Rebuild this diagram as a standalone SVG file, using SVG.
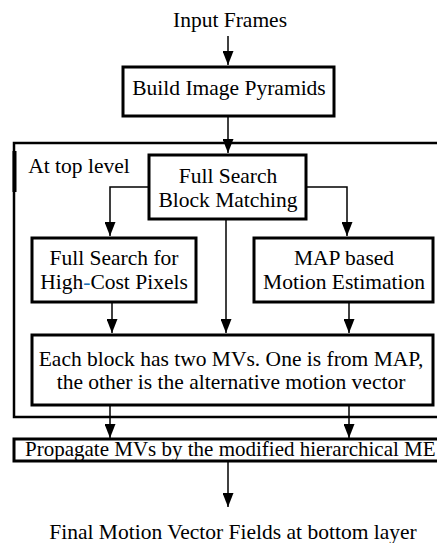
<svg xmlns="http://www.w3.org/2000/svg" width="437" height="543" viewBox="0 0 437 543">
<style>
text{font-family:"Liberation Serif","Times New Roman",serif;font-size:21.5px;fill:#000;text-anchor:middle}
.box{fill:#fff;stroke:#000;stroke-width:3}
.frame{fill:none;stroke:#000;stroke-width:2.5}
.ln{fill:none;stroke:#000;stroke-width:1.5}
</style>
<defs>
<marker id="a" markerWidth="14" markerHeight="11" refX="14" refY="5.5" orient="auto" markerUnits="userSpaceOnUse" viewBox="0 0 14 11">
<path d="M0,0 L14,5.5 L0,11 Z" fill="#000"/>
</marker>
</defs>
<g id="frame">
<path class="frame" d="M437,143 L14,143 L14,417 L437,417"/>
<rect x="12.5" y="151" width="4" height="41" fill="#000"/>
</g>
<g id="connectors">
<path class="ln" d="M228,36 L228,65" marker-end="url(#a)"/>
<path class="ln" d="M228,116 L228,153" marker-end="url(#a)"/>
<path class="ln" d="M149,187 L110,187 L110,236" marker-end="url(#a)"/>
<path class="ln" d="M306,187 L347,187 L347,236" marker-end="url(#a)"/>
<path class="ln" d="M112,302 L112,333" marker-end="url(#a)"/>
<path class="ln" d="M226,219 L226,333" marker-end="url(#a)"/>
<path class="ln" d="M349,302 L349,333" marker-end="url(#a)"/>
<path class="ln" d="M110,405 L110,438" marker-end="url(#a)"/>
<path class="ln" d="M349,405 L349,438" marker-end="url(#a)"/>
<path class="ln" d="M228,461 L228,507" marker-end="url(#a)"/>
</g>
<g id="input"><text x="230" y="27">Input Frames</text></g>
<g id="pyramids">
<rect class="box" x="123" y="67" width="211" height="49"/>
<text x="229" y="95">Build Image Pyramids</text>
</g>
<g id="toplabel"><text x="79" y="173">At top level</text></g>
<g id="fsbm">
<rect class="box" x="149" y="155" width="157" height="64"/>
<text x="228" y="183">Full Search</text>
<text x="228" y="207">Block Matching</text>
</g>
<g id="highcost">
<rect class="box" x="32" y="238" width="164" height="64"/>
<text x="114" y="265">Full Search for</text>
<text x="114" y="289">High<tspan fill="#1a6fb5">-</tspan>Cost Pixels</text>
</g>
<g id="map">
<rect class="box" x="254" y="238" width="179" height="64"/>
<text x="344" y="265">MAP based</text>
<text x="344" y="289">Motion Estimation</text>
</g>
<g id="twomvs">
<rect class="box" x="32" y="335" width="401" height="70"/>
<text x="231" y="366">Each block has two MVs. One is from MAP,</text>
<text x="231" y="389">the other is the alternative motion vector</text>
</g>
<g id="propagate">
<rect class="box" x="14" y="439" width="440" height="22"/>
<text x="25" y="456" style="text-anchor:start;font-size:21px">Propagate MVs by the modified hierarchical ME</text>
</g>
<g id="final"><text x="233" y="539">Final Motion Vector Fields at bottom layer</text></g>
</svg>
